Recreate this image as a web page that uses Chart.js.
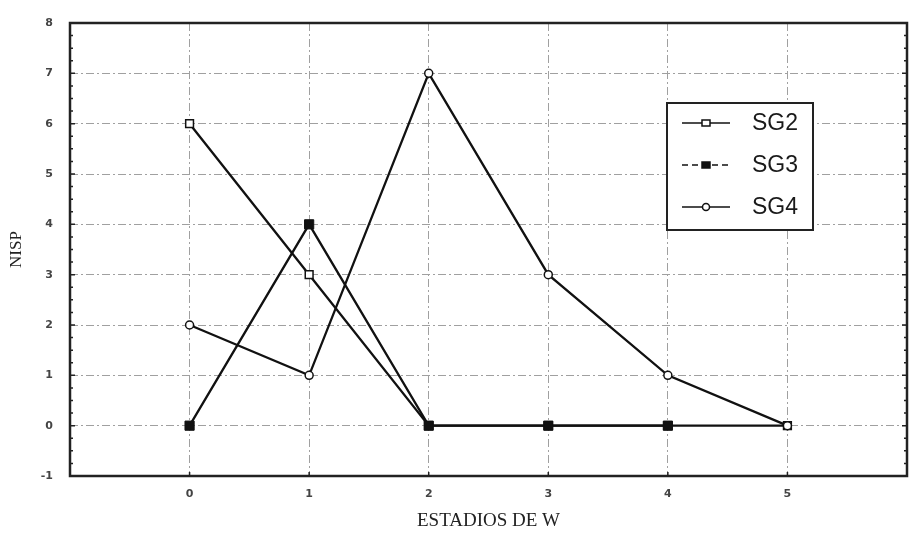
<!DOCTYPE html>
<html>
<head>
<meta charset="utf-8">
<script src="https://cdn.jsdelivr.net/npm/chart.js@4.4.1/dist/chart.umd.min.js"></script>
<style>
  html, body { margin:0; padding:0; background:#fff; }
  #wrap { width:910px; height:541px; position:relative; }
</style>
</head>
<body>
<div id="wrap"><canvas id="c" width="910" height="541"></canvas></div>
<script>
// --- datos ---
const estadios = [0, 1, 2, 3, 4, 5];
const sg2 = [6, 3, 0, 0, 0, 0];
const sg3 = [0, 4, 0, 0, 0, null];
const sg4 = [2, 1, 7, 3, 1, 0];
const yTicks = [-1, 0, 1, 2, 3, 4, 5, 6, 7, 8];

const toPts = arr => estadios.map((x, i) => ({x: x, y: arr[i]}));

// marco, marcas menores y leyenda dibujados a mano
const framePlugin = {
    id: 'frame',
    afterDraw(chart) {
        const ctx = chart.ctx, a = chart.chartArea;
        const ys = chart.scales.y, xs = chart.scales.x;
        ctx.save();
        // marcas menores (izq/der)
        ctx.strokeStyle = '#222';
        ctx.lineWidth = 1.5;
        for (let v = yTicks[0]; v <= yTicks[yTicks.length - 1]; v += 0.25) {
            const py = ys.getPixelForValue(v);
            const len = Number.isInteger(v) ? 5 : 3;
            ctx.beginPath();
            ctx.moveTo(a.left, py); ctx.lineTo(a.left + len, py);
            ctx.moveTo(a.right, py); ctx.lineTo(a.right - len, py);
            ctx.stroke();
        }
        estadios.forEach(v => {
            const px = xs.getPixelForValue(v);
            ctx.beginPath();
            ctx.moveTo(px, a.bottom); ctx.lineTo(px, a.bottom - 4);
            ctx.stroke();
        });
        // marco
        ctx.strokeStyle = '#222';
        ctx.lineWidth = 2.5;
        ctx.strokeRect(a.left, a.top, a.right - a.left, a.bottom - a.top);

        // leyenda
        const bx = 667, by = 103, bw = 146, bh = 127;
        ctx.fillStyle = '#fff';
        ctx.fillRect(bx, by, bw, bh);
        ctx.lineWidth = 2;
        ctx.strokeStyle = '#222';
        ctx.strokeRect(bx, by, bw, bh);
        const rows = [123, 165, 207];
        chart.data.datasets.forEach((ds, i) => {
            const y = rows[i];
            ctx.strokeStyle = '#111';
            ctx.lineWidth = 1.6;
            ctx.setLineDash(i === 1 ? [6, 4] : []);
            ctx.beginPath();
            ctx.moveTo(682, y); ctx.lineTo(730, y);
            ctx.stroke();
            ctx.setLineDash([]);
            // marcador
            ctx.lineWidth = 1.5;
            if (ds.pointStyle === 'circle') {
                ctx.beginPath();
                ctx.arc(706, y, 3.5, 0, Math.PI * 2);
                ctx.fillStyle = '#fff'; ctx.fill(); ctx.stroke();
            } else {
                ctx.fillStyle = ds.pointBackgroundColor;
                ctx.fillRect(702, y - 3, 8, 6);
                ctx.strokeRect(702, y - 3, 8, 6);
            }
            ctx.fillStyle = '#1a1a1a';
            ctx.font = '23px "Liberation Sans", Arial, sans-serif';
            ctx.textAlign = 'left';
            ctx.textBaseline = 'middle';
            ctx.fillText(ds.label, 752, y + 1);
        });
        ctx.restore();
    }
};

new Chart(document.getElementById('c'), {
    type: 'line',
    data: {
        datasets: [
            { label: 'SG2', data: toPts(sg2), borderColor: '#111', borderWidth: 2.3,
              pointStyle: 'rect', pointRadius: 5.5, pointBackgroundColor: '#fff',
              pointBorderColor: '#111', pointBorderWidth: 1.5, order: 3 },
            { label: 'SG3', data: toPts(sg3), borderColor: '#111', borderWidth: 2.3,
              pointStyle: 'rect', pointRadius: 6.5, pointBackgroundColor: '#111',
              pointBorderColor: '#111', pointBorderWidth: 1, order: 2 },
            { label: 'SG4', data: toPts(sg4), borderColor: '#111', borderWidth: 2.3,
              pointStyle: 'circle', pointRadius: 4, pointBackgroundColor: '#fff',
              pointBorderColor: '#111', pointBorderWidth: 1.5, order: 1 }
        ]
    },
    options: {
        responsive: false,
        animation: false,
        devicePixelRatio: 1,
        layout: { autoPadding: false, padding: { top: 23, right: 3, left: 0, bottom: 0 } },
        plugins: { legend: { display: false }, tooltip: { enabled: false } },
        scales: {
            x: {
                type: 'linear', min: -1, max: 6,
                afterFit: s => { s.height = 65; s.paddingLeft = 0; s.paddingRight = 0; },
                afterBuildTicks: s => { s.ticks = estadios.map(v => ({value: v})); },
                grid: { color: '#a0a0a0', lineWidth: 1, drawTicks: false },
                border: { display: false, dash: [8, 3, 2, 3] },
                ticks: { autoSkip: false, padding: 12, color: '#444', font: { size: 11, weight: 'bold', family: 'DejaVu Sans' } },
                title: { display: true, text: 'ESTADIOS DE W', color: '#222',
                         font: { size: 19, family: '"Liberation Serif", serif' }, padding: { bottom: 9 } }
            },
            y: {
                min: -1, max: 8,
                afterFit: s => { s.width = 70; s.paddingTop = 0; s.paddingBottom = 0; },
                afterBuildTicks: s => { s.ticks = yTicks.map(v => ({value: v})); },
                grid: { color: '#a0a0a0', lineWidth: 1, drawTicks: false },
                border: { display: false, dash: [8, 3, 2, 3] },
                ticks: { autoSkip: false, padding: 17, color: '#444', font: { size: 11, weight: 'bold', family: 'DejaVu Sans' } },
                title: { display: true, text: 'NISP', color: '#222',
                         font: { size: 17, family: '"Liberation Serif", serif' }, padding: { top: 6 } }
            }
        }
    },
    plugins: [framePlugin]
});
</script>
</body>
</html>
